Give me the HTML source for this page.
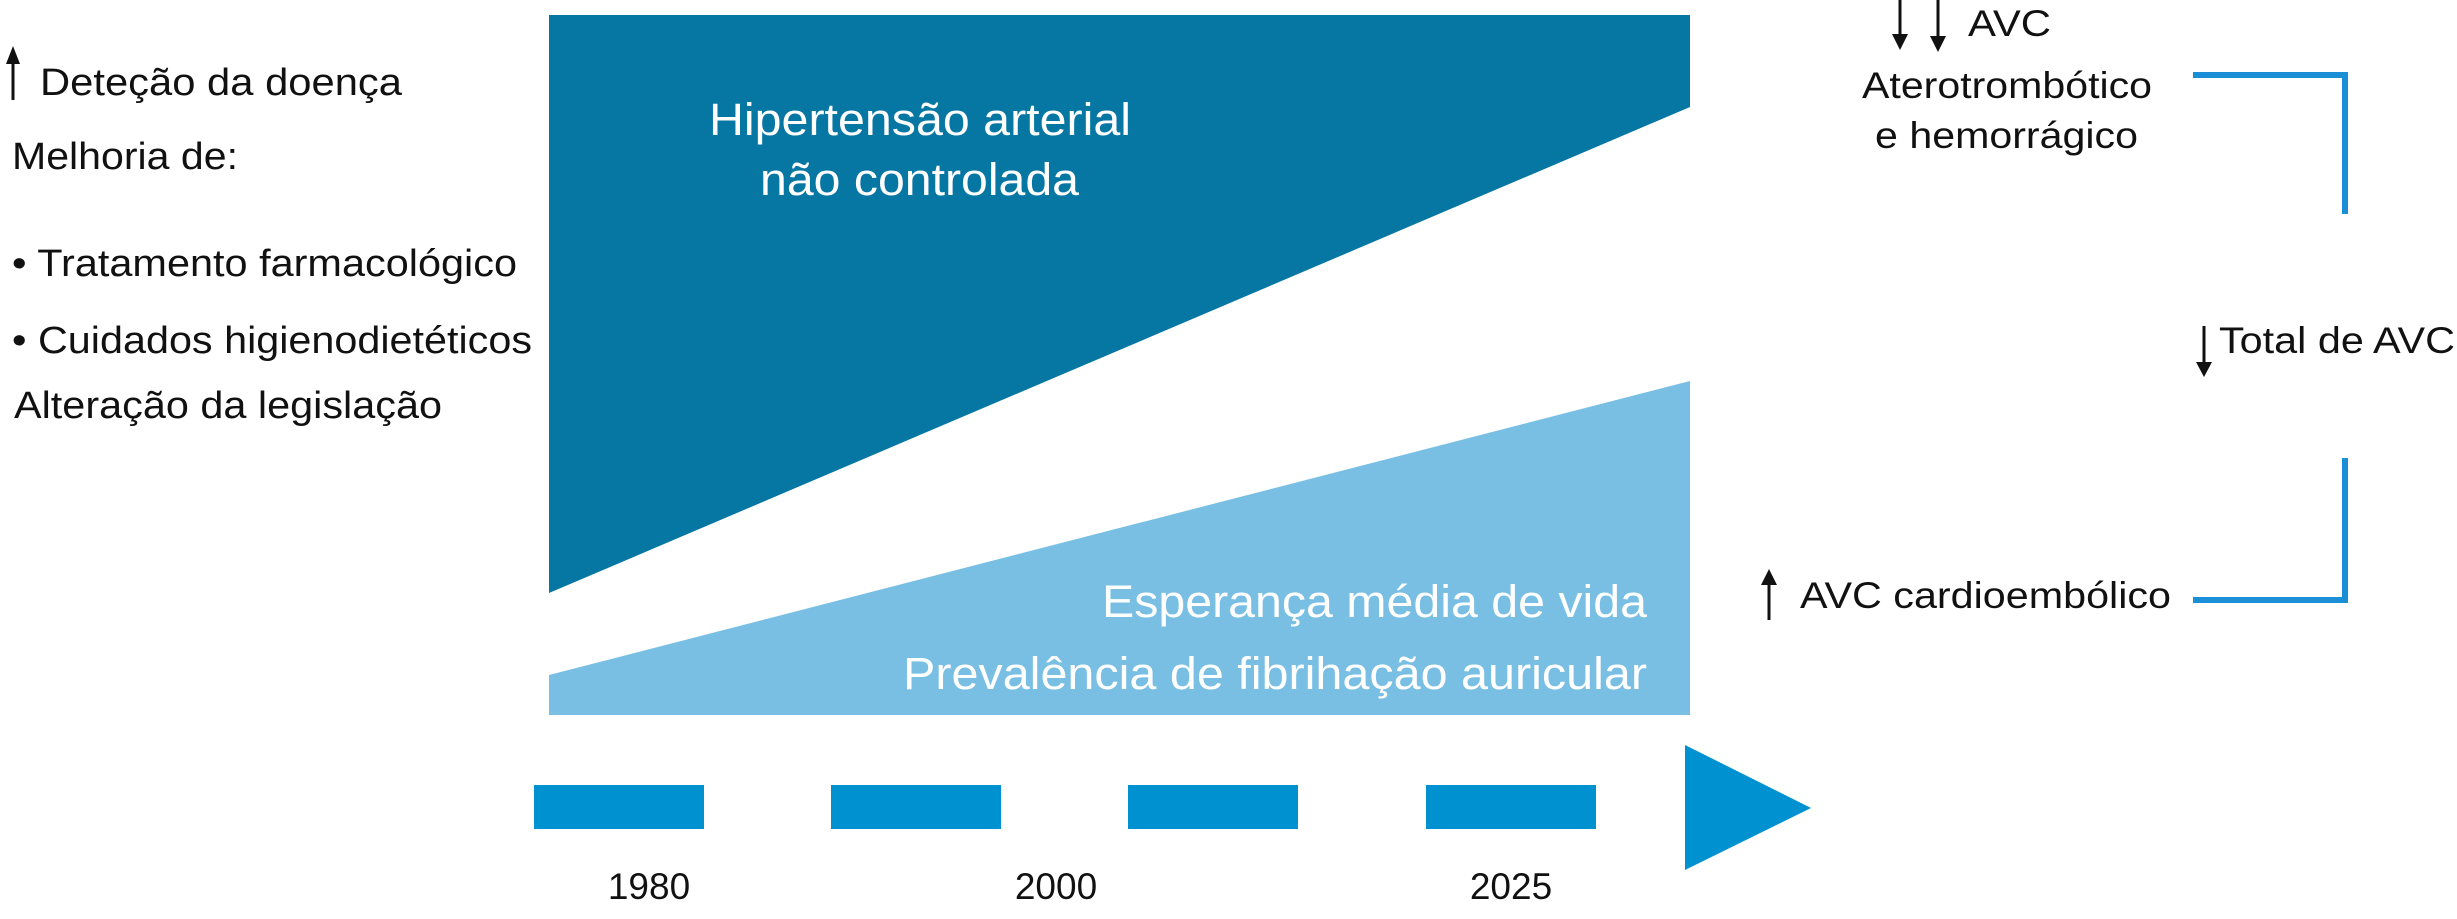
<!DOCTYPE html>
<html><head><meta charset="utf-8"><style>
html,body{margin:0;padding:0;background:#fff;}
svg{display:block;font-family:"Liberation Sans",sans-serif;}
</style></head><body>
<svg id="chart" width="2457" height="919" viewBox="0 0 2457 919">
<g id="wedges"></g>
<g font-size="38" fill="#111">
  <line x1="13" y1="100" x2="13" y2="62" stroke="#111" stroke-width="3"/>
  <polygon points="6,64 20,64 13,46" fill="#111"/>
  <text x="40" y="95" textLength="362" lengthAdjust="spacingAndGlyphs">Deteção da doença</text>
  <text x="12" y="169" textLength="226" lengthAdjust="spacingAndGlyphs">Melhoria de:</text>
  <text x="12" y="276" textLength="505" lengthAdjust="spacingAndGlyphs">• Tratamento farmacológico</text>
  <text x="12" y="353" textLength="520" lengthAdjust="spacingAndGlyphs">• Cuidados higienodietéticos</text>
  <text x="14" y="418" textLength="428" lengthAdjust="spacingAndGlyphs">Alteração da legislação</text>
</g>
<g fill="#fff" font-size="45">
  <text x="709" y="135" textLength="422" lengthAdjust="spacingAndGlyphs">Hipertensão arterial</text>
  <text x="760" y="195" textLength="319" lengthAdjust="spacingAndGlyphs">não controlada</text>
  <text x="1647" y="617" text-anchor="end" textLength="545" lengthAdjust="spacingAndGlyphs">Esperança média de vida</text>
  <text x="1647" y="689" text-anchor="end" textLength="744" lengthAdjust="spacingAndGlyphs">Prevalência de fibrihação auricular</text>
</g>
<g id="timeline"></g>
<g font-size="37" fill="#111">
  <line x1="1900" y1="0" x2="1900" y2="38" stroke="#111" stroke-width="3"/>
  <polygon points="1892,34 1908,34 1900,50" fill="#111"/>
  <line x1="1938" y1="0" x2="1938" y2="40" stroke="#111" stroke-width="3"/>
  <polygon points="1930,36 1946,36 1938,52" fill="#111"/>
  <text x="1968" y="36" textLength="83" lengthAdjust="spacingAndGlyphs">AVC</text>
  <text x="1862" y="98" textLength="290" lengthAdjust="spacingAndGlyphs">Aterotrombótico</text>
  <text x="1875" y="148" textLength="263" lengthAdjust="spacingAndGlyphs">e hemorrágico</text>
  <polyline points="2193,75 2345,75 2345,214" fill="none" stroke="#1a8fd6" stroke-width="6"/>
  <line x1="2204" y1="326" x2="2204" y2="365" stroke="#111" stroke-width="3"/>
  <polygon points="2196,362 2212,362 2204,377" fill="#111"/>
  <text x="2219" y="353" textLength="236" lengthAdjust="spacingAndGlyphs">Total de AVC</text>
  <polyline points="2345,458 2345,600 2193,600" fill="none" stroke="#1a8fd6" stroke-width="6"/>
  <line x1="1769" y1="620" x2="1769" y2="582" stroke="#111" stroke-width="3"/>
  <polygon points="1761,585 1777,585 1769,569" fill="#111"/>
  <text x="1800" y="608" textLength="371" lengthAdjust="spacingAndGlyphs">AVC cardioembólico</text>
</g>
<script>
// data
const wedgeNames = ["hipertensao-nao-controlada", "esperanca-fa"];
const wedgeStartLevel = [593, 675];   // y of sloped edge at left (1980)
const wedgeEndLevel = [107, 381];     // y of sloped edge at right
const years = ["1980", "2000", "2025"];
const yearCenters = [649, 1056, 1511];
const dashCount = [4];

const NS = "http://www.w3.org/2000/svg";
const x0 = 549, x1 = 1690;
const wg = document.getElementById("wedges");
let p = document.createElementNS(NS, "polygon");
p.setAttribute("points", `${x0},15 ${x1},15 ${x1},${wedgeEndLevel[0]} ${x0},${wedgeStartLevel[0]}`);
p.setAttribute("fill", "#0676a3");


wg.appendChild(p);
p = document.createElementNS(NS, "polygon");
p.setAttribute("points", `${x0},${wedgeStartLevel[1]} ${x1},${wedgeEndLevel[1]} ${x1},715 ${x0},715`);
p.setAttribute("fill", "#79bfe4");


wg.appendChild(p);

const tl = document.getElementById("timeline");
const dashX = [534, 831, 1128, 1426];
for (let i = 0; i < dashCount[0]; i++) {
  const r = document.createElementNS(NS, "rect");
  r.setAttribute("x", dashX[i]); r.setAttribute("y", 785);
  r.setAttribute("width", 170); r.setAttribute("height", 44);
  r.setAttribute("fill", "#0091d0");
  
  
  tl.appendChild(r);
}
const tri = document.createElementNS(NS, "polygon");
tri.setAttribute("points", "1685,745 1811,808 1685,870");
tri.setAttribute("fill", "#0091d0");


tl.appendChild(tri);
years.forEach((y, i) => {
  const t = document.createElementNS(NS, "text");
  t.setAttribute("x", yearCenters[i]); t.setAttribute("y", 899);
  t.setAttribute("text-anchor", "middle");
  t.setAttribute("font-size", "37"); t.setAttribute("fill", "#111");
  t.textContent = y;
  
  
  tl.appendChild(t);
});
</script>
</svg>
</body></html>
